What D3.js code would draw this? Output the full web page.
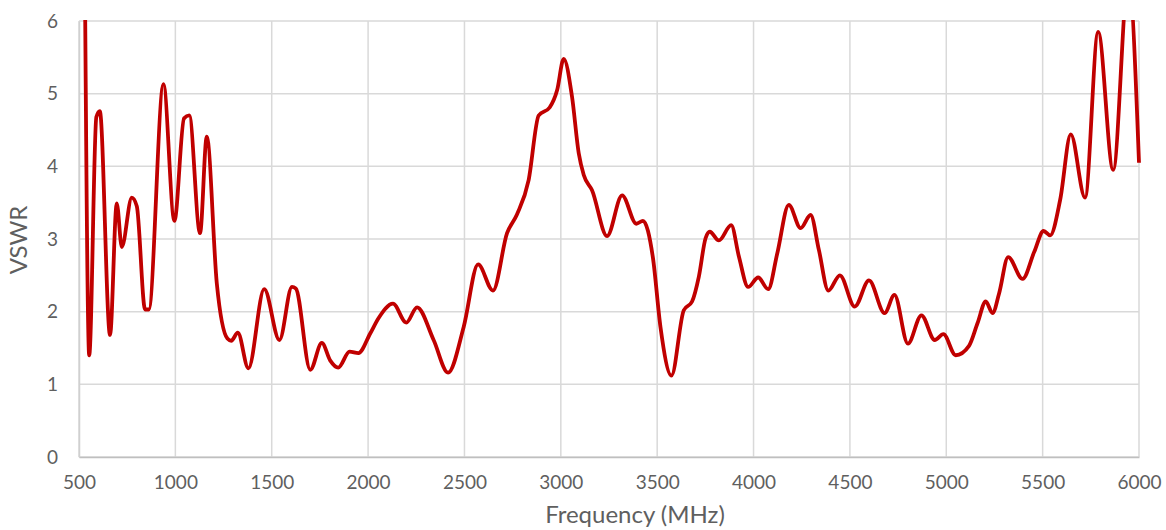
<!DOCTYPE html>
<html>
<head>
<meta charset="utf-8">
<title>VSWR vs Frequency</title>
<script src="https://cdnjs.cloudflare.com/ajax/libs/d3/7.8.5/d3.min.js"></script>
<style>
    * { margin: 0; padding: 0; }
    body { background: #fff; }
    .tick text { font-family: Lato, "Open Sans", sans-serif; font-size: 19px; fill: #5f5f5f; }
    .axis-title { font-family: Lato, "Open Sans", sans-serif; font-size: 24px; fill: #5f5f5f; }
</style>
</head>
<body>
<script>
    // readings
    var freq = [530, 553, 590, 608, 661, 696, 722, 774, 800, 843, 862, 938, 995, 1045, 1072, 1128, 1163,
        1215, 1270, 1290, 1324, 1379, 1461, 1540, 1605, 1625, 1700, 1760, 1803, 1845, 1904, 1950,
        2011, 2054, 2129, 2198, 2254, 2340, 2415, 2496, 2571, 2648, 2721, 2773, 2833, 2885, 2942,
        2981, 3015, 3058, 3093, 3119, 3162, 3240, 3318, 3392, 3426, 3478, 3517, 3574, 3638, 3681,
        3716, 3751, 3773, 3820, 3884, 3924, 3972, 4024, 4076, 4123, 4183, 4244, 4296, 4339, 4388,
        4448, 4525, 4599, 4680, 4731, 4801, 4871, 4940, 4985, 5049, 5118, 5162, 5205, 5240, 5274,
        5321, 5396, 5456, 5505, 5539, 5591, 5646, 5720, 5788, 5866, 5945, 6000];
    var vswr = [6.8, 1.40, 4.68, 4.76, 1.68, 3.49, 2.89, 3.57, 3.45, 2.03, 2.03, 5.13, 3.25, 4.66, 4.70, 3.08, 4.41,
        2.39, 1.63, 1.60, 1.71, 1.22, 2.31, 1.61, 2.34, 2.32, 1.20, 1.57, 1.33, 1.23, 1.45, 1.43,
        1.70, 1.91, 2.11, 1.85, 2.06, 1.61, 1.16, 1.79, 2.65, 2.29, 3.08, 3.34, 3.81, 4.70, 4.81,
        5.05, 5.48, 4.96, 4.18, 3.88, 3.67, 3.04, 3.60, 3.21, 3.25, 2.74, 1.79, 1.12, 2.02, 2.14,
        2.48, 3.01, 3.10, 2.98, 3.19, 2.76, 2.34, 2.47, 2.31, 2.80, 3.47, 3.15, 3.33, 2.85, 2.29,
        2.50, 2.07, 2.43, 1.98, 2.23, 1.56, 1.95, 1.61, 1.69, 1.40, 1.53, 1.84, 2.14, 1.98, 2.25,
        2.75, 2.45, 2.82, 3.11, 3.05, 3.54, 4.44, 3.57, 5.85, 3.95, 6.6, 4.05];
    var xTicks = [500, 1000, 1500, 2000, 2500, 3000, 3500, 4000, 4500, 5000, 5500, 6000];
    var yTicks = [0, 1, 2, 3, 4, 5, 6];

    var data = freq.map(function(f, i) { return { f: f, v: vswr[i] }; });

    var margin = { top: 21, right: 27, bottom: 73, left: 79 },
        width = 1166 - margin.left - margin.right,
        height = 530 - margin.top - margin.bottom;

    var svg = d3.select("body").append("svg")
        .attr("width", 1166)
        .attr("height", 530)
        .append("g")
        .attr("transform", "translate(" + margin.left + "," + margin.top + ")");

    var x = d3.scaleLinear().domain([500, 6000]).range([0, width]);
    var y = d3.scaleLinear().domain([0, 6]).range([height, 0]);

    // gridlines
    svg.append("g").selectAll("line.hg")
        .data(yTicks)
        .enter().append("line")
        .attr("x1", 0).attr("x2", width)
        .attr("y1", function(d) { return y(d); })
        .attr("y2", function(d) { return y(d); })
        .attr("stroke", "#d9d9d9").attr("stroke-width", 1.5);
    svg.append("g").selectAll("line.vg")
        .data(xTicks)
        .enter().append("line")
        .attr("x1", function(d) { return x(d); })
        .attr("x2", function(d) { return x(d); })
        .attr("y1", 0).attr("y2", height)
        .attr("stroke", "#d9d9d9").attr("stroke-width", 1.5);

    // axes
    var xAxis = svg.append("g")
        .attr("transform", "translate(0," + height + ")")
        .call(d3.axisBottom(x).tickValues(xTicks).tickSize(0).tickPadding(19).tickFormat(d3.format("d")));
    xAxis.select(".domain").attr("stroke", "#bfbfbf").attr("stroke-width", 1.5);

    var yAxis = svg.append("g")
        .call(d3.axisLeft(y).tickValues(yTicks).tickSize(0).tickPadding(21).tickFormat(d3.format("d")));
    yAxis.select(".domain").attr("stroke", "#d0d0d0").attr("stroke-width", 1.5);

    // clip to plot area, like the original
    svg.append("clipPath").attr("id", "plot-clip")
        .append("rect").attr("x", -5).attr("y", -1).attr("width", width + 10).attr("height", height + 2);

    var line = d3.line()
        .x(function(d) { return x(d.f); })
        .y(function(d) { return y(d.v); })
        .curve(d3.curveMonotoneX);

    svg.append("path")
        .datum(data)
        .attr("clip-path", "url(#plot-clip)")
        .attr("fill", "none")
        .attr("stroke", "#c00000")
        .attr("stroke-width", 3.8)
        .attr("stroke-linejoin", "round")
        .attr("d", line);

    // axis titles
    svg.append("text")
        .attr("class", "axis-title")
        .attr("x", width / 2 + 26)
        .attr("y", height + 66)
        .attr("text-anchor", "middle")
        .text("Frequency (MHz)");

    svg.append("text")
        .attr("class", "axis-title")
        .attr("transform", "rotate(-90)")
        .attr("x", -219)
        .attr("y", -52)
        .attr("text-anchor", "middle")
        .text("VSWR");
</script>
</body>
</html>
